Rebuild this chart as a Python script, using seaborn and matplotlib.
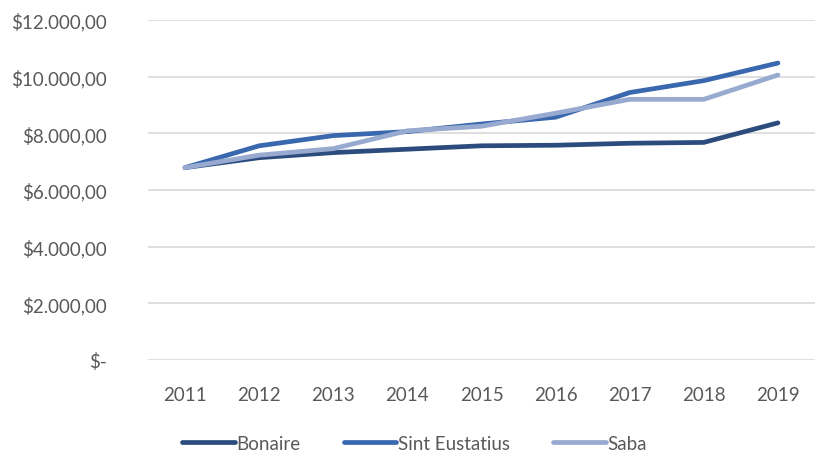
import pandas as pd
import matplotlib.pyplot as plt
import seaborn as sns
from matplotlib.ticker import FuncFormatter

years = ["2011", "2012", "2013", "2014", "2015", "2016", "2017", "2018", "2019"]
bonaire = [6790, 7140, 7320, 7440, 7560, 7580, 7650, 7680, 8370]
sint_eustatius = [6790, 7560, 7920, 8060, 8330, 8570, 9440, 9860, 10480]
saba = [6790, 7230, 7460, 8090, 8250, 8710, 9200, 9200, 10060]

series = ["Bonaire", "Sint Eustatius", "Saba"]
colors = ["#2C4C7E", "#3A68AE", "#98AAD0"]

frames = []
for name, vals in zip(series, [bonaire, sint_eustatius, saba]):
    frames.append(pd.DataFrame({"year": years, "value": vals, "island": name}))
df = pd.concat(frames, ignore_index=True)


def money(v, pos):
    # dutch style currency: $12.000,00
    if v == 0:
        return "$-"
    s = f"{v:,.2f}"
    s = s.replace(",", "X").replace(".", ",").replace("X", ".")
    return "$" + s


sns.set_style("white")
plt.rcParams["font.family"] = ["Lato", "DejaVu Sans"]

fig = plt.figure(figsize=(8.29, 4.56), dpi=100)
ax = fig.add_axes([148 / 829, 1 - 361 / 456, 667 / 829, 340 / 456])

sns.lineplot(data=df, x="year", y="value", hue="island", palette=colors,
             linewidth=3.4, sort=False, ax=ax, legend=True)

ax.set_ylim(0, 12000)
ax.set_yticks(range(0, 12001, 2000))
ax.yaxis.set_major_formatter(FuncFormatter(money))
ax.set_xlim(-0.5, len(years) - 0.5)
ax.grid(axis="y", color="#d9d9d9", linewidth=1.2)
ax.set_axisbelow(True)
for sp in ax.spines.values():
    sp.set_visible(False)
ax.tick_params(axis="both", length=0, labelsize=13.5, labelcolor="#595959")
ax.tick_params(axis="y", pad=30)
ax.tick_params(axis="x", pad=19)
ax.set_xlabel("")
ax.set_ylabel("")

handles, labels = ax.get_legend_handles_labels()
ax.legend(handles, labels, loc="upper center", bbox_to_anchor=(0.4, -0.17),
          ncol=3, frameon=False, fontsize=13.5, handlelength=2.8,
          handletextpad=0.1, columnspacing=2.3, labelcolor="#595959")

fig.savefig("out.png", dpi=100)
